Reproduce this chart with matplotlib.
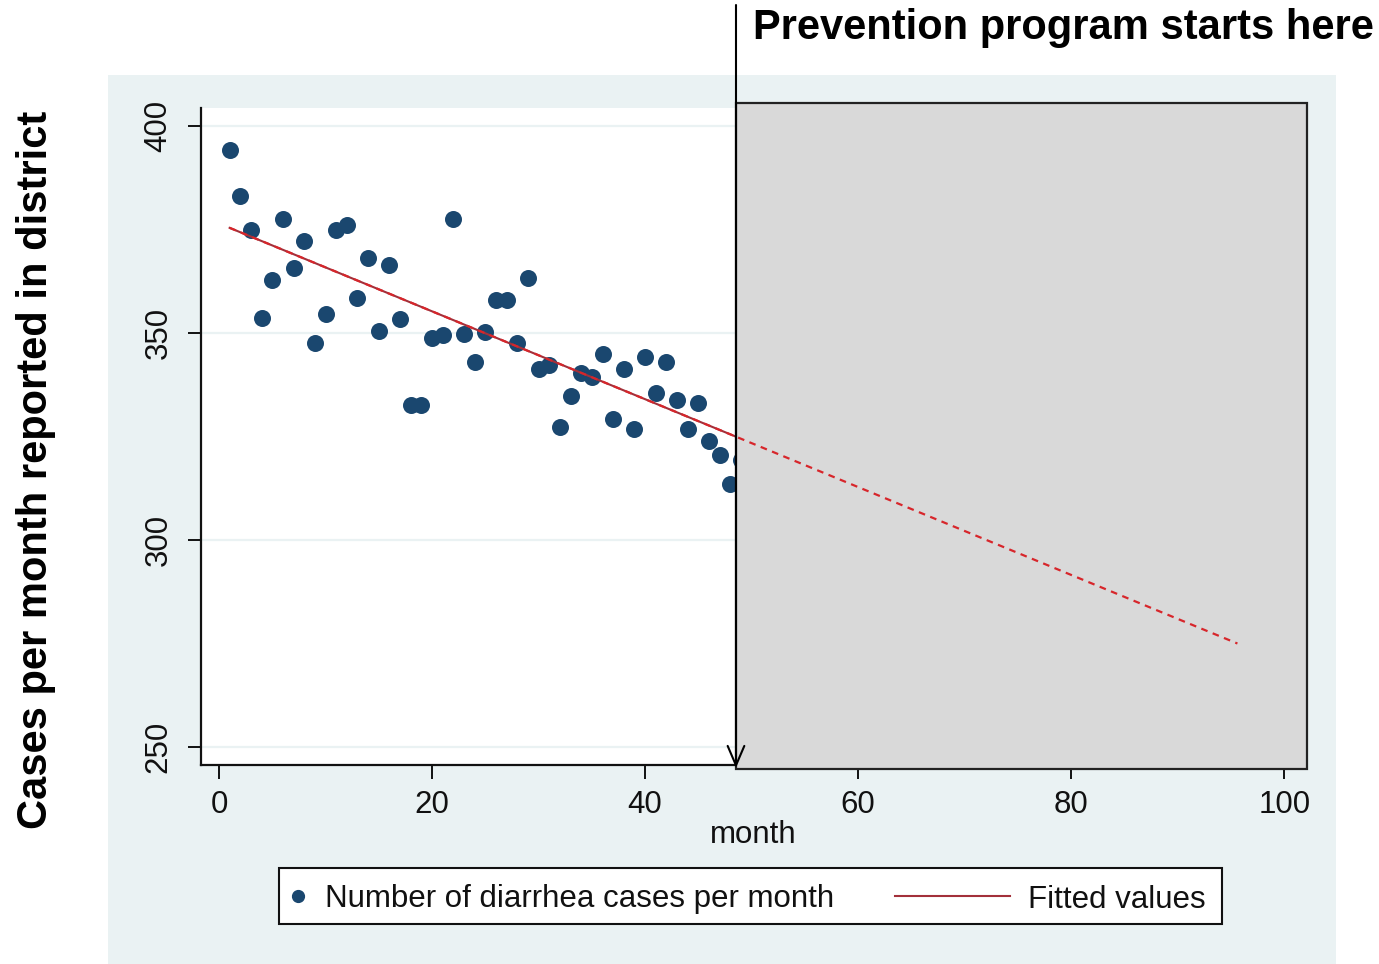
import matplotlib
matplotlib.use("Agg")
import matplotlib.pyplot as plt
from matplotlib.patches import Rectangle
from matplotlib.lines import Line2D

# ---------------- data ----------------
months = list(range(1, 50))
cases = [394.2, 383.1, 374.8, 353.6, 362.7, 377.6, 365.7, 372.2, 347.7, 354.7,
         374.8, 376.2, 358.5, 368.2, 350.4, 366.4, 353.4, 332.6, 332.6, 348.7,
         349.5, 377.5, 349.7, 342.9, 350.2, 358.0, 358.0, 347.5, 363.4, 341.2,
         342.2, 327.4, 334.8, 340.4, 339.3, 345.0, 329.3, 341.2, 326.7, 344.1,
         335.4, 343.1, 333.9, 326.9, 333.2, 324.0, 320.5, 313.5, 319.3]
fit_months = [1, 95.6]
fit_values = [375.4, 275.0]
program_start = 48.53
xticks = [0, 20, 40, 60, 80, 100]
yticks = [250, 300, 350, 400]

title_text = "Prevention program starts here"
ylabel_text = "Cases per month reported in district"
xlabel_text = "month"
legend_labels = ["Number of diarrhea cases per month", "Fitted values"]

# ---------------- styling ----------------
W, H = 1379, 964
plt.rcParams['font.family'] = ['Liberation Sans', 'DejaVu Sans']
NAVY = '#1a476f'
MAROON = '#a3303a'
RED = '#d7262b'
BG = '#eaf2f3'
GRAY = '#d9d9d9'
FS = 22.5

fig = plt.figure(figsize=(W / 100, H / 100), dpi=100)
fig.patch.set_facecolor('white')

# outer graph region
fig.patches.append(Rectangle((108 / W, 0), (1336 - 108) / W, (964 - 75) / H,
                             transform=fig.transFigure, facecolor=BG,
                             edgecolor='none', zorder=-1))

# axes positioned to match pixel layout
left_px, right_px, top_px, bot_px = 200.7, 1305.6, 108, 765
ax = fig.add_axes([left_px / W, 1 - bot_px / H, (right_px - left_px) / W,
                   (bot_px - top_px) / H])
ax.set_facecolor('white')
x0, ppx = 219.0, 10.653
ax.set_xlim((left_px - x0) / ppx, (right_px - x0) / ppx)
ax.set_ylim(400 - (bot_px - 126) / 4.14, 400 + (126 - top_px) / 4.14)

for s in ['top', 'right']:
    ax.spines[s].set_visible(False)
for s in ['left', 'bottom']:
    ax.spines[s].set_linewidth(1.6)
    ax.spines[s].set_color('#111111')

ax.set_yticks(yticks)
ax.set_xticks(xticks)
ax.grid(axis='y', color=BG, linewidth=1.6, zorder=0)
ax.set_axisbelow(True)
ax.tick_params(axis='y', length=9.5, width=1.4, pad=10, labelsize=FS,
               labelrotation=90, color='#111111', labelcolor='#111111')
for lab in ax.get_yticklabels():
    lab.set_va('center')
ax.tick_params(axis='x', length=10, width=1.4, pad=8, labelsize=FS,
               color='#111111', labelcolor='#111111')
ax.set_xlabel(xlabel_text, fontsize=FS, labelpad=0, color='#111111')

# data
ax.scatter(months, cases, s=150, color=NAVY, zorder=2, linewidths=0)
ax.plot(fit_months, fit_values, color=MAROON, lw=1.5, zorder=2.2)

# shaded post-program region
box_top = 400 + (126 - 103) / 4.14
box_bot = 400 - (769 - 126) / 4.14
box_right = (1307 - x0) / ppx
ax.add_patch(Rectangle((program_start, box_bot), box_right - program_start,
                       box_top - box_bot, facecolor=GRAY, edgecolor='#222222',
                       lw=1.6, clip_on=False, zorder=3))

# dashed extension of fit
ax.plot(fit_months, fit_values, color=RED, lw=1.6, ls=(0, (3, 2.5)), zorder=4,
        clip_on=False)

# vertical arrow marking program start
ax.annotate('', xy=(program_start, 400 - (768 - 126) / 4.14), xycoords='data',
            xytext=(736, H - 5), textcoords='figure pixels',
            arrowprops=dict(arrowstyle='->,head_length=0.7,head_width=0.3',
                            mutation_scale=20, color='black', lw=1.5,
                            shrinkA=0, shrinkB=0),
            annotation_clip=False, zorder=5)

# titles
fig.text(753 / W, 1 - 28 / H, title_text, fontsize=30, fontweight='bold',
         ha='left', va='center', color='black')
fig.text(36 / W, 1 - 470 / H, ylabel_text, fontsize=30, fontweight='bold',
         rotation=90, ha='center', va='center', color='black')

# legend (manual, matching layout)
fig.patches.append(Rectangle((279 / W, 1 - 924 / H), 943 / W, 56 / H,
                             transform=fig.transFigure, facecolor='white',
                             edgecolor='#111111', lw=1.5, zorder=1))
ly = 1 - 896 / H
fig.lines.append(Line2D([298 / W], [ly], marker='o', ms=8.5, color=NAVY, lw=0,
                        transform=fig.transFigure, zorder=2))
fig.text(325 / W, ly, legend_labels[0], fontsize=FS, ha='left',
         va='center_baseline', color='#111111', zorder=2)
fig.lines.append(Line2D([895 / W, 1010 / W], [ly, ly], color=MAROON, lw=1.5,
                        transform=fig.transFigure, zorder=2))
fig.text(1028 / W, ly, legend_labels[1], fontsize=FS, ha='left',
         va='center_baseline', color='#111111', zorder=2)

fig.savefig('out.png', dpi=100)
